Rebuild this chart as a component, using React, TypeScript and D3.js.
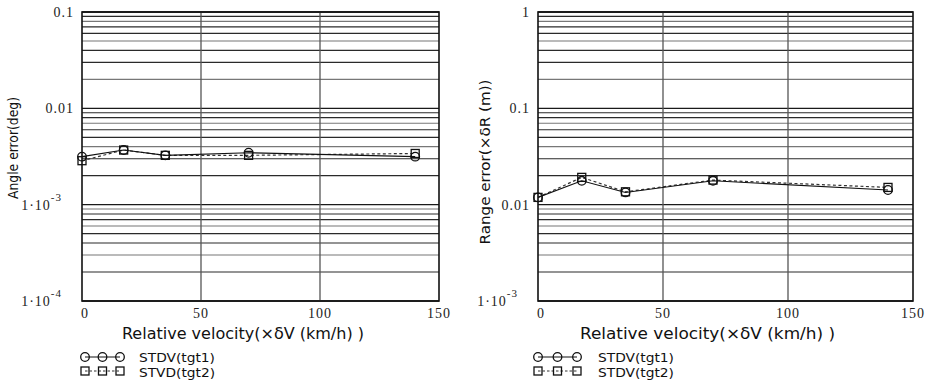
import * as d3 from "d3";
import React from "react";

// relative velocity (x δV km/h)
const velocity = [0, 17.5, 35, 70, 140];
const xTicks = [0, 50, 100, 150];

// angle error (deg)
const angleTgt1 = [0.00315, 0.00369, 0.00325, 0.00346, 0.00315];
const angleTgt2 = [0.00286, 0.00369, 0.00325, 0.00325, 0.0034];

// range error (x δR m)
const rangeTgt1 = [0.0119, 0.0177, 0.0134, 0.0177, 0.0142];
const rangeTgt2 = [0.0119, 0.0192, 0.0136, 0.018, 0.0151];

const angleTicks = [
  { v: 0.1, base: "0.1", exp: "" },
  { v: 0.01, base: "0.01", exp: "" },
  { v: 1e-3, base: "1·10", exp: "-3" },
  { v: 1e-4, base: "1·10", exp: "-4" },
];
const rangeTicks = [
  { v: 1, base: "1", exp: "" },
  { v: 0.1, base: "0.1", exp: "" },
  { v: 0.01, base: "0.01", exp: "" },
  { v: 1e-3, base: "1·10", exp: "-3" },
];

const SERIF = "Liberation Serif, Times New Roman, Times, serif";
const GOTHIC = "DejaVu Sans Condensed, DejaVu Sans, sans-serif";

interface PanelProps {
  left: number;
  right: number;
  yDomain: [number, number];
  ticks: { v: number; base: string; exp: string }[];
  tgt1: number[];
  tgt2: number[];
  yTitle: string;
  yTitleLen: number;
  yTitleX: number;
  yTitleY: number;
  xTitleX: number;
  xTitleLen: number;
  legend2: string;
  legendX: number;
  legendTextX: number;
  legendSpacing: number;
}

const TOP = 12;
const BOTTOM = 301;

const Marker: React.FC<{ kind: "circle" | "square"; x: number; y: number }> = ({ kind, x, y }) =>
  kind === "circle" ? (
    <circle cx={x} cy={y} r={4.3} fill="none" stroke="#111" strokeWidth={1.3} />
  ) : (
    <rect x={x - 4} y={y - 4} width={8} height={8} fill="none" stroke="#111" strokeWidth={1.3} />
  );

const Panel: React.FC<PanelProps> = (p) => {
  const x = d3.scaleLinear().domain([0, 150]).range([p.left, p.right]);
  const y = d3.scaleLog().domain(p.yDomain).range([BOTTOM, TOP]);

  // horizontal grid: every 2..9 x 10^k inside the domain
  const grid: number[] = [];
  const lo = Math.round(Math.log10(p.yDomain[0]));
  const hi = Math.round(Math.log10(p.yDomain[1]));
  for (let k = lo; k < hi; k++) {
    for (let m = 2; m <= 9; m++) grid.push(m * Math.pow(10, k));
  }
  const decades = d3.range(lo, hi + 1).map((k) => Math.pow(10, k));

  const line = d3
    .line<number>()
    .x((_, i) => x(velocity[i]))
    .y((d) => y(d));

  const legY1 = 357;
  const legY2 = 371;
  const lx = [0, 1, 2].map((i) => p.legendX + i * p.legendSpacing);

  return (
    <g>
      {grid.map((g, i) => (
        <line key={"g" + i} x1={p.left} x2={p.right} y1={y(g)} y2={y(g)}
          stroke={i % 3 === 1 ? "#777" : "#2a2a2a"} strokeWidth={1.1} />
      ))}
      {decades.map((g, i) => (
        <line key={"d" + i} x1={p.left} x2={p.right} y1={y(g)} y2={y(g)} stroke="#1a1a1a" strokeWidth={1.3} />
      ))}
      {xTicks.slice(1, -1).map((t) => (
        <line key={"v" + t} x1={x(t)} x2={x(t)} y1={TOP} y2={BOTTOM} stroke="#555" strokeWidth={1.3} />
      ))}
      <rect x={p.left} y={TOP} width={p.right - p.left} height={BOTTOM - TOP} fill="none" stroke="#111" strokeWidth={1.6} />

      <path d={line(p.tgt2) ?? ""} fill="none" stroke="#333" strokeWidth={1.2} strokeDasharray="3,2.5" />
      <path d={line(p.tgt1) ?? ""} fill="none" stroke="#111" strokeWidth={1.1} />
      {p.tgt2.map((d, i) => <Marker key={"s" + i} kind="square" x={x(velocity[i])} y={y(d)} />)}
      {p.tgt1.map((d, i) => <Marker key={"c" + i} kind="circle" x={x(velocity[i])} y={y(d)} />)}

      {p.ticks.map((t) => (
        <text key={"t" + t.v} x={p.left - (t.exp ? 20 : 8)} y={y(t.v) + 5} textAnchor="end"
          fontFamily={SERIF} fontSize={14} letterSpacing={1} fill="#222">
          {t.base}
          {t.exp && <tspan fontSize={11} dy={-9}>{t.exp}</tspan>}
        </text>
      ))}
      {xTicks.map((t) => (
        <text key={"x" + t} x={x(t) + (t === 0 ? 3 : 0)} y={318} textAnchor="middle"
          fontFamily={SERIF} fontSize={14} letterSpacing={1} fill="#222">
          {t}
        </text>
      ))}

      <text x={p.xTitleX} y={339} fontFamily={GOTHIC} fontSize={16} fill="#111"
        textLength={p.xTitleLen} lengthAdjust="spacingAndGlyphs">
        Relative velocity(×δV (km/h) )
      </text>
      <text transform={`translate(${p.yTitleX},${p.yTitleY}) rotate(-90)`} textAnchor="middle"
        fontFamily={GOTHIC} fontSize={14} fill="#111" textLength={p.yTitleLen} lengthAdjust="spacingAndGlyphs">
        {p.yTitle}
      </text>

      {/* legend */}
      <line x1={lx[0]} x2={lx[2]} y1={legY1} y2={legY1} stroke="#111" strokeWidth={1.1} />
      {lx.map((v, i) => <Marker key={"lc" + i} kind="circle" x={v} y={legY1} />)}
      <line x1={lx[0]} x2={lx[2]} y1={legY2} y2={legY2} stroke="#333" strokeWidth={1.1} strokeDasharray="2.5,2" />
      {lx.map((v, i) => <Marker key={"ls" + i} kind="square" x={v} y={legY2} />)}
      <text x={p.legendTextX} y={362} fontFamily={GOTHIC} fontSize={12.8} fill="#111"
        textLength={76} lengthAdjust="spacingAndGlyphs">STDV(tgt1)</text>
      <text x={p.legendTextX} y={377} fontFamily={GOTHIC} fontSize={12.8} fill="#111"
        textLength={76} lengthAdjust="spacingAndGlyphs">{p.legend2}</text>
    </g>
  );
};

export default function App() {
  return (
    <svg width={927} height={384} style={{ position: "absolute", left: 0, top: 0, background: "#fff" }}>
      <Panel left={82} right={439} yDomain={[1e-4, 0.1]} ticks={angleTicks}
        tgt1={angleTgt1} tgt2={angleTgt2}
        yTitle="Angle error(deg)" yTitleLen={102} yTitleX={18} yTitleY={148}
        xTitleX={122} xTitleLen={242} legend2="STVD(tgt2)"
        legendX={85} legendTextX={139} legendSpacing={17.5} />
      <Panel left={538} right={913} yDomain={[1e-3, 1]} ticks={rangeTicks}
        tgt1={rangeTgt1} tgt2={rangeTgt2}
        yTitle="Range error(×δR (m))" yTitleLen={165} yTitleX={490} yTitleY={162}
        xTitleX={580} xTitleLen={255} legend2="STDV(tgt2)"
        legendX={538} legendTextX={598} legendSpacing={19.5} />
    </svg>
  );
}
